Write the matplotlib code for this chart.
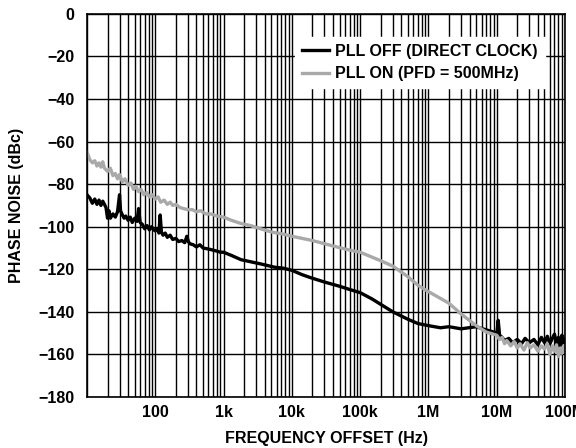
import numpy as np
import matplotlib.pyplot as plt
from matplotlib.ticker import FixedLocator, LogLocator, NullFormatter

plt.rcParams['font.family'] = ['Liberation Sans', 'DejaVu Sans']
plt.rcParams['font.weight'] = 'bold'

# PLL OFF (direct clock)
f_off = [10, 11, 12, 13, 14, 15, 16, 17, 18, 19, 20, 21, 22, 24, 26, 28, 30, 31, 33, 35,
         37, 40, 43, 46, 50, 54, 57, 60, 65, 70, 76, 82, 88, 95, 100, 108, 113, 118, 123, 130,
         140, 150, 165, 180, 200, 220, 245, 270, 290, 305, 320, 360, 400, 450, 500, 600, 700, 800, 900, 1e3,
         1.3e3, 1.8e3, 2.5e3, 3.5e3, 5.5e3, 7.5e3, 1e4, 1.4e4, 1.9e4, 3e4, 5e4, 7e4, 1e5, 1.5e5, 2e5, 3e5, 5e5, 7e5,
         1e6, 1.5e6, 2e6, 3e6, 5e6, 7e6, 9e6, 10e6, 10.5e6, 11e6, 12e6, 13e6, 15e6, 17e6, 20e6, 23e6, 26e6,
         30e6, 35e6, 40e6, 45e6, 50e6, 55e6, 60e6, 65e6, 70e6, 75e6, 80e6, 85e6, 90e6, 95e6, 100e6]
pn_off = [-85, -86.5, -89, -87, -89.5, -87.5, -90, -88, -89.5, -91, -96, -92.5, -96, -94, -95.5, -93, -85, -92.5, -94.5, -96,
          -95, -97, -95.5, -98, -96, -97.5, -91.5, -98, -99, -101, -99.5, -101.5, -100, -101.5, -102, -101, -103, -94.5, -102.5, -104,
          -103, -105, -104, -106, -105.5, -107, -106.5, -107.5, -104.5, -107, -108, -108.5, -109.5, -108.5, -110, -110.5, -111, -111.5, -112, -112,
          -113.5, -115.5, -116.5, -117.5, -119, -119.5, -120.5, -122.5, -124, -126, -128, -129.5, -131, -134, -136.5, -140, -143.5, -145.5,
          -146.5, -147.5, -147, -148, -147, -148.5, -149.5, -150.5, -144, -151, -152, -153.5, -152.5, -154.5, -153, -155, -152.5,
          -154.5, -153, -155.5, -152, -154.5, -151.5, -155, -152.5, -150.5, -155, -152, -156, -151, -154.5, -153]

# PLL ON (PFD = 500MHz)
f_on = [10, 11, 12, 13, 14, 15, 16, 17, 18, 20, 22, 24, 26, 28, 30, 33, 36, 40, 44, 48,
        52, 57, 62, 68, 75, 82, 90, 100, 110, 120, 135, 150, 165, 180, 200, 230, 260, 300, 350, 400,
        460, 550, 650, 800, 1e3, 1.3e3, 1.8e3, 2.5e3, 3.5e3, 5e3, 7.5e3, 1e4, 2e4, 3e4, 5.2e4, 7e4, 1e5, 2e5, 3e5, 5e5,
        7e5, 1e6, 2e6, 3e6, 5e6, 7e6, 10e6, 11e6, 12e6, 13e6, 14e6, 16e6, 18e6, 20e6, 22e6, 25e6, 28e6, 31e6, 35e6, 40e6,
        45e6, 50e6, 55e6, 60e6, 65e6, 70e6, 75e6, 80e6, 85e6, 90e6, 95e6, 100e6]
pn_on = [-65, -68.5, -70, -69, -71.5, -70, -72, -69.5, -72.5, -74, -72.5, -76, -75, -77.5, -75.5, -79, -77.5, -80.5, -79.5, -82.5,
         -81, -83.5, -82.5, -85, -84, -86, -85, -87, -86, -88.5, -87.5, -89.5, -88.5, -90, -89.5, -91, -91.5, -92, -92, -93,
         -92.5, -94, -94, -95, -95.5, -97, -98.5, -99.5, -101, -102.5, -103.5, -104.5, -106.5, -108, -110, -111, -112, -116, -118.5, -123.5,
         -127.5, -130.5, -136, -141, -146.5, -149.5, -151, -153, -152, -155, -153.5, -156, -154, -157, -155, -158, -154.5, -157, -155.5, -158.5,
         -156, -157.5, -155, -160, -156, -158.5, -155.5, -161, -157, -159.5, -156, -158]

xticks = [1e2, 1e3, 1e4, 1e5, 1e6, 1e7, 1e8]
xlabels = ['100', '1k', '10k', '100k', '1M', '10M', '100M']
yticks = [-180, -160, -140, -120, -100, -80, -60, -40, -20, 0]

fig = plt.figure(figsize=(5.76, 4.48), dpi=100)
ax = fig.add_axes([0.151, 0.114, 0.830, 0.855])

ax.plot(f_off, pn_off, color='black', lw=2.4, label='PLL OFF (DIRECT CLOCK)')
ax.plot(f_on, pn_on, color='#a9a9a9', lw=2.4, label='PLL ON (PFD = 500MHz)')

ax.set_xscale('log')
ax.set_xlim(10, 1e8)
ax.set_ylim(-180, 0)
ax.xaxis.set_major_locator(FixedLocator(xticks))
ax.set_xticklabels(xlabels)
ax.xaxis.set_minor_locator(LogLocator(base=10, subs=np.arange(1, 10)))
ax.xaxis.set_minor_formatter(NullFormatter())
ax.set_yticks(yticks)

ax.grid(True, which='both', axis='x', color='black', lw=1.0)
ax.grid(True, which='major', axis='y', color='black', lw=1.0)
ax.tick_params(which='both', length=0, labelsize=11.5)
ax.tick_params(axis='y', pad=9)
ax.tick_params(axis='x', pad=6)
for s in ax.spines.values():
    s.set_linewidth(1.2)

ax.set_xlabel('FREQUENCY OFFSET (Hz)', fontsize=11.5, fontweight='bold', labelpad=8)
ax.set_ylabel('PHASE NOISE (dBc)', fontsize=11.5, fontweight='bold', labelpad=10)

leg = ax.legend(loc='upper left', bbox_to_anchor=(0.435, 0.94), fontsize=11.5, frameon=True,
                fancybox=False, framealpha=1, edgecolor='white', facecolor='white',
                handlelength=1.7, handletextpad=0.35, borderpad=0.45, borderaxespad=0,
                labelspacing=0.45)

fig.savefig('out.png', dpi=100)
